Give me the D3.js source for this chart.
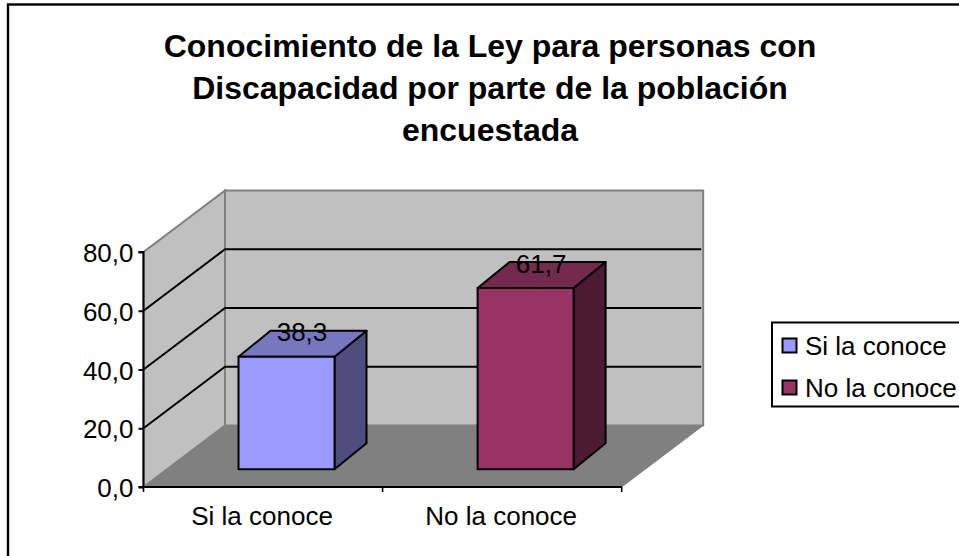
<!DOCTYPE html>
<html><head><meta charset="utf-8">
<script src="https://cdn.jsdelivr.net/npm/d3@7"></script>
<style>html,body{margin:0;padding:0;background:#fff}svg{display:block}text{font-family:"Liberation Sans",Arial,sans-serif;fill:#000}</style>
</head><body><svg id="c" width="959" height="556"></svg>
<script>
const titleLines=["Conocimiento de la Ley para personas con","Discapacidad por parte de la población","encuestada"];
const categories=["Si la conoce","No la conoce"];
const values=[38.3,61.7];
const labels=["38,3","61,7"];
const yTicks=[0,20,40,60,80];
const faceColors=["#9999ff","#993366"];
const topColors=["#7777c0","#732a4d"];
const sideColors=["#4d4d80","#4d1a33"];

const svg=d3.select("#c");
const x=d3.scaleBand().domain(categories).range([143.5,621.7]);
const y=d3.scaleLinear().domain([0,80]).range([487,252]);
const dx=81.5, dy=-61.5;            // wall depth offset
const barDepthX=32, barDepthY=-26;  // bar depth
const floorY=17.7, floorX=floorY*dx/-dy; // bar inset from the front edge
const barW=96;
const pts=a=>a.map(p=>p.join(",")).join(" ");

svg.append("rect").attr("x",8).attr("y",4.5).attr("width",1000).attr("height",1000)
  .attr("fill","#fff").attr("stroke","#000").attr("stroke-width",2.4);

svg.append("g").selectAll("text").data(titleLines).join("text")
  .attr("x",490).attr("y",(d,i)=>56.5+i*42).attr("text-anchor","middle")
  .attr("font-size",32).attr("font-weight","bold").text(d=>d);

const x0=x.range()[0], x1=x.range()[1], yB=y(0), yT=y(80);
svg.append("polygon").attr("points",pts([[x0,yB],[x0+dx,yB+dy],[x0+dx,yT+dy],[x0,yT]]))
  .attr("fill","#c0c0c0").attr("stroke","#808080").attr("stroke-width",2);
svg.append("polygon").attr("points",pts([[x0+dx,yB+dy],[x1+dx,yB+dy],[x1+dx,yT+dy],[x0+dx,yT+dy]]))
  .attr("fill","#c0c0c0").attr("stroke","#808080").attr("stroke-width",2);
svg.append("polygon").attr("points",pts([[x0,yB],[x1,yB],[x1+dx,yB+dy],[x0+dx,yB+dy]]))
  .attr("fill","#808080").attr("stroke","#808080").attr("stroke-width",1);

yTicks.filter(t=>t>0&&t<80).forEach(t=>{
  svg.append("polyline").attr("fill","none").attr("stroke","#000").attr("stroke-width",2)
    .attr("points",pts([[x0,y(t)],[x0+dx,y(t)+dy],[x1+dx-2,y(t)+dy]]));
});

const axisL=svg.append("g").attr("transform",`translate(${x0},0)`)
  .call(d3.axisLeft(y).tickValues(yTicks).tickSize(5).tickPadding(5).tickFormat(d=>d3.format(".1f")(d).replace(".",",")));
axisL.selectAll("path,line").attr("stroke","#000").attr("stroke-width",2);
axisL.select("path").attr("d",`M-5,${y(80)}H0V${y(0)}H-5`);
axisL.selectAll("text").attr("font-size",26).attr("font-family","Liberation Sans").attr("dy","0.37em");

const tickX=[x0,x0+x.bandwidth(),x1];
svg.append("line").attr("x1",x0).attr("x2",x1).attr("y1",yB).attr("y2",yB).attr("stroke","#000").attr("stroke-width",2);
svg.selectAll(".xt").data(tickX).join("line").attr("class","xt")
  .attr("x1",d=>d).attr("x2",d=>d).attr("y1",yB).attr("y2",yB+5).attr("stroke","#000").attr("stroke-width",1.6);
svg.selectAll(".xl").data(categories).join("text").attr("class","xl")
  .attr("x",d=>x(d)+x.bandwidth()/2-1).attr("y",525).attr("text-anchor","middle").attr("font-size",26).text(d=>d);

const bars=svg.append("g").selectAll("g").data(categories).join("g")
  .attr("stroke","#000").attr("stroke-width",2).attr("stroke-linejoin","round");
bars.each(function(c,i){
  const g=d3.select(this);
  const l=x(c)+x.bandwidth()/2+floorX-barW/2, r=l+barW;
  const b=yB-floorY, t=b-(y(0)-y(values[i]));
  g.append("polygon").attr("fill",sideColors[i]).attr("points",pts([[r,b],[r+barDepthX,b+barDepthY],[r+barDepthX,t+barDepthY],[r,t]]));
  g.append("polygon").attr("fill",topColors[i]).attr("points",pts([[l,t],[r,t],[r+barDepthX,t+barDepthY],[l+barDepthX,t+barDepthY]]));
  g.append("rect").attr("fill",faceColors[i]).attr("x",l).attr("y",t).attr("width",barW).attr("height",b-t);
  svg.append("text").attr("x",l+barDepthX+31.5).attr("y",t+barDepthY+10.5).attr("text-anchor","middle").attr("font-size",26).text(labels[i]);
});

svg.append("rect").attr("x",772).attr("y",322.5).attr("width",200).attr("height",84)
  .attr("fill","#fff").attr("stroke","#000").attr("stroke-width",2);
const lg=svg.selectAll(".lg").data(categories).join("g").attr("class","lg")
  .attr("transform",(d,i)=>`translate(0,${i*42})`);
lg.append("rect").attr("x",782.5).attr("y",338.5).attr("width",14).attr("height",14)
  .attr("fill",(d,i)=>faceColors[i]).attr("stroke","#000").attr("stroke-width",2);
lg.append("text").attr("x",805).attr("y",355).attr("font-size",26).text(d=>d);
</script></body></html>
